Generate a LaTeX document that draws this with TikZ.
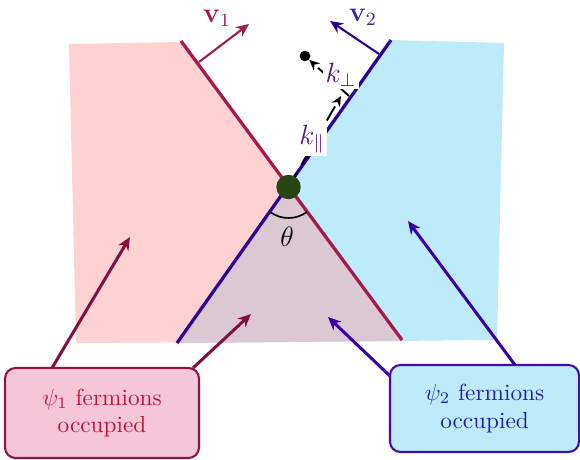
\documentclass[tikz,border=0pt]{standalone}
\usetikzlibrary{arrows.meta}
\definecolor{pinkfill}{RGB}{255,210,210}
\definecolor{bluefill}{RGB}{190,235,250}
\definecolor{overlapfill}{RGB}{220,200,210}
\definecolor{redline}{RGB}{165,25,75}
\definecolor{blueline}{RGB}{45,0,150}
\definecolor{lbfill}{RGB}{245,198,215}
\definecolor{lbdraw}{RGB}{140,20,70}
\definecolor{lbtext}{RGB}{190,20,60}
\definecolor{rbfill}{RGB}{190,235,250}
\definecolor{rbdraw}{RGB}{70,10,170}
\definecolor{rbtext}{RGB}{30,30,170}
\definecolor{vonecol}{RGB}{170,20,70}
\definecolor{vtwocol}{RGB}{50,40,180}
\definecolor{kcol}{RGB}{90,20,130}
\definecolor{dotgreen}{RGB}{40,70,20}
\definecolor{leftarrow}{RGB}{130,15,65}
\definecolor{rightarrow}{RGB}{60,0,160}
\begin{document}
\begin{tikzpicture}[x=0.43pt,y=-0.43pt,
  tip/.style={-{Stealth[length=5.6pt,width=5pt,inset=1.8pt]}},
  smalltip/.style={-{Stealth[length=4.4pt,width=4pt,inset=1.4pt]}},
  boxarrow/.style={tip, line width=1.3pt},
  infobox/.style={draw, rounded corners=4.5pt, line width=0.9pt, align=center, inner sep=2pt},
  klabel/.style={fill=white, inner sep=1pt, text=kcol, font=\large},
  vlabel/.style={inner sep=0pt, font=\large},
  kline/.style={dashed, dash pattern=on 7pt off 4pt, line width=0.8pt, smalltip}
]
\useasboundingbox (0,0) rectangle (580,459);
% regions
\fill[pinkfill] (69,44) -- (181,42) -- (402,341) -- (76,343) -- cycle;
\fill[bluefill] (391,40) -- (504,43) -- (497,340) -- (177,343) -- cycle;
\coordinate (O) at (288.5,187);
\fill[overlapfill] (O) -- (402,341) -- (177,343) -- cycle;
% Fermi lines
\coordinate (r1) at (181,41);
\coordinate (r2) at (402,340);
\coordinate (b1) at (391,40);
\coordinate (b2) at (177,343);
\draw[redline, line width=1.4pt] (r1) -- (r2);
\draw[blueline, line width=1.4pt] (b1) -- (b2);
% velocity arrows
\coordinate (v1s) at (199,62);
\coordinate (v1e) at (249,24);
\coordinate (v2s) at (379,54);
\coordinate (v2e) at (330,21);
\draw[redline, line width=0.9pt, tip] (v1s) -- (v1e);
\draw[blueline, line width=0.9pt, tip] (v2s) -- (v2e);
\node[vlabel, text=vonecol] (v1) at (217,18) {$\mathbf{v}_1$};
\node[vlabel, text=vtwocol] (v2) at (363,17) {$\mathbf{v}_2$};
% angle
\draw[line width=0.7pt] ([shift={(125:31)}]O) arc[start angle=125, end angle=53.5, radius=31];
\node[font=\large] (theta) at (287,237) {$\theta$};
% k vectors
\node[circle, fill=black, minimum size=4.6pt, inner sep=0pt] (kdot) at (305,56) {};
\coordinate (P) at (341,96);
\coordinate (P2) at (349,96);
\draw[kline] (O) -- (P);
\draw[kline] (P2) -- (kdot);
\node[circle, fill=dotgreen, minimum size=10.5pt, inner sep=0pt] (origin) at (O) {};
\node[klabel] (kpar) at (312,139) {$k_\parallel$};
\node[klabel] (kperp) at (341,75) {$k_\perp$};
% boxes
\node[infobox, draw=lbdraw, fill=lbfill, text=lbtext, minimum width=83.4pt, minimum height=38.7pt] (lb) at (102,413) {$\psi_1$ fermions\\occupied};
\node[infobox, draw=rbdraw, fill=rbfill, text=rbtext, minimum width=81.3pt, minimum height=37.4pt] (rb) at (484.5,408.5) {$\psi_2$ fermions\\occupied};
% box arrows
\coordinate (la1s) at (52,368);
\coordinate (la1e) at (130,237);
\coordinate (la2s) at (193,368);
\coordinate (la2e) at (251,314);
\coordinate (ra1s) at (390,376);
\coordinate (ra1e) at (328,317);
\coordinate (ra2s) at (515,365);
\coordinate (ra2e) at (408,221);
\draw[boxarrow, leftarrow] (la1s) -- (la1e);
\draw[boxarrow, leftarrow] (la2s) -- (la2e);
\draw[boxarrow, rightarrow] (ra1s) -- (ra1e);
\draw[boxarrow, rightarrow] (ra2s) -- (ra2e);
\end{tikzpicture}
\end{document}
